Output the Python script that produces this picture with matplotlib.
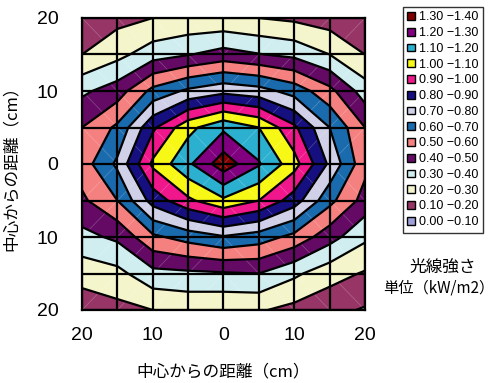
import numpy as np
import matplotlib
matplotlib.use('Agg')
import matplotlib.pyplot as plt
from matplotlib.patches import Patch

# measuring grid (cm from centre)
x_cm = [-20, -15, -10, -5, 0, 5, 10, 15, 20]
y_cm = [20, 15, 10, 5, 0, -5, -10, -15, -20]

# light intensity, kW/m2 -- one list per row, top (y=20) to bottom (y=-20)
row_y20 = [0.13, 0.17, 0.20, 0.22, 0.22, 0.20, 0.18, 0.15, 0.12]
row_y15 = [0.20, 0.27, 0.355, 0.395, 0.44, 0.405, 0.375, 0.30, 0.20]
row_y10 = [0.38, 0.45, 0.63, 0.72, 0.77, 0.74, 0.66, 0.53, 0.35]
row_y5 = [0.50, 0.62, 0.88, 1.07, 1.18, 1.10, 0.92, 0.70, 0.50]
row_y0 = [0.55, 0.72, 1.02, 1.18, 1.36, 1.21, 1.04, 0.78, 0.53]
row_ym5 = [0.48, 0.60, 0.84, 0.98, 1.08, 1.00, 0.85, 0.63, 0.46]
row_ym10 = [0.37, 0.42, 0.58, 0.64, 0.69, 0.65, 0.57, 0.44, 0.32]
row_ym15 = [0.24, 0.27, 0.37, 0.38, 0.39, 0.40, 0.32, 0.24, 0.19]
row_ym20 = [0.14, 0.17, 0.20, 0.22, 0.21, 0.21, 0.17, 0.13, 0.09]

levels = [0.0, 0.1, 0.2, 0.3, 0.4, 0.5, 0.6, 0.7, 0.8, 0.9, 1.0, 1.1, 1.2, 1.3, 1.4]
band_colors = ['#a0a0d8', '#963566', '#f5f5cc', '#d0eef0', '#640a64',
               '#f58080', '#1a6aae', '#d0d0e8', '#160f80', '#f0168c',
               '#f8f816', '#2cb0d0', '#800080', '#800000']

tick_pos = [-20, -10, 0, 10, 20]
tick_labels = ['20', '10', '0', '10', '20']

jp = ['Noto Sans CJK JP', 'DejaVu Sans']
num_font = ['Liberation Sans Narrow', 'Liberation Sans', 'DejaVu Sans']

Z = np.array([row_y20, row_y15, row_y10, row_y5, row_y0,
              row_ym5, row_ym10, row_ym15, row_ym20])
X, Y = np.meshgrid(x_cm, y_cm)

fig = plt.figure(figsize=(4.97, 3.83), dpi=100)
ax = fig.add_axes([82 / 497, 1 - 310 / 383, 283 / 497, 292 / 383])

ax.contourf(X, Y, Z, levels=levels, colors=band_colors, zorder=1)

# faint cell diagonals pointing at the centre
for i in range(len(x_cm) - 1):
    for j in range(len(y_cm) - 1):
        xa, xb = x_cm[i], x_cm[i + 1]
        ya, yb = y_cm[j + 1], y_cm[j]
        if (xa + xb) * (ya + yb) > 0:
            ax.plot([xa, xb], [ya, yb], color='white', lw=0.5, alpha=0.25, zorder=1.5)
        else:
            ax.plot([xa, xb], [yb, ya], color='white', lw=0.5, alpha=0.25, zorder=1.5)

ax.contour(X, Y, Z, levels=levels[1:-1], colors='black', linewidths=1.6, zorder=2)

# grid every 5 cm
ax.vlines(x_cm, -20, 20, colors='black', linewidth=1.6, zorder=3)
ax.hlines(y_cm, -20, 20, colors='black', linewidth=1.6, zorder=3)

ax.set_xlim(-20, 20)
ax.set_ylim(-20, 20)
for s in ax.spines.values():
    s.set_linewidth(1.6)
    s.set_color('black')

ax.set_xticks(tick_pos)
ax.set_xticklabels(tick_labels, family=num_font, fontsize=14)
ax.set_yticks(tick_pos)
ax.set_yticklabels(tick_labels, family=num_font, fontsize=14)
ax.tick_params(length=0)
ax.tick_params(axis='x', pad=12)
ax.tick_params(axis='y', pad=17)

ax.set_xlabel('中心からの距離（cm）', family=jp, fontsize=12, labelpad=14)
ax.set_ylabel('中心からの距離（cm）', family=jp, fontsize=12, labelpad=12)

# legend, highest band first
handles = []
for k in range(len(band_colors) - 1, -1, -1):
    lab = '%.2f \u2212%.2f' % (levels[k], levels[k + 1])
    handles.append(Patch(facecolor=band_colors[k], edgecolor='black',
                         linewidth=1.0, label=lab))
leg = fig.legend(handles=handles, loc='upper left',
                 bbox_to_anchor=(403 / 497, 1 - 7 / 383),
                 prop={'family': num_font[1:], 'size': 9},
                 handlelength=0.6, handleheight=0.6, handletextpad=0.35,
                 labelspacing=0.3, borderpad=0.35, borderaxespad=0,
                 fancybox=False, frameon=True)
leg.get_frame().set_edgecolor('black')
leg.get_frame().set_linewidth(1.0)

fig.text(443 / 497, 1 - 267 / 383, '光線強さ', family=jp, fontsize=12,
         ha='center', va='center')
fig.text(439 / 497, 1 - 288 / 383, '単位（kW/m2）', family=jp, fontsize=11,
         ha='center', va='center')

fig.savefig('out.png', dpi=100)
